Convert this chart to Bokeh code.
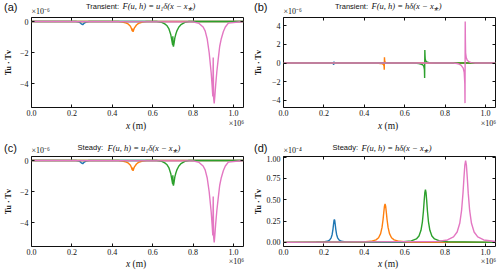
from bokeh.plotting import figure
from bokeh.models import Range1d, FixedTicker, LinearAxis, Label
from bokeh.layouts import column, row
from bokeh.embed import file_html
from bokeh.resources import INLINE

COLORS = ["#1f77b4", "#ff7f0e", "#2ca02c", "#e377c2"]

X_TICKS = [0.0, 0.2, 0.4, 0.6, 0.8, 1.0]
X_TICK_LABELS = ["0.0", "0.2", "0.4", "0.6", "0.8", "1.0"]
Y_TICKS_AC = [-4, -2, 0]
Y_TICK_LABELS_AC = ["\u22124", "\u22122", "0"]
Y_TICKS_B = [-4, -2, 0, 2, 4]
Y_TICK_LABELS_B = ["\u22124", "\u22122", "0", "2", "4"]
Y_TICKS_D = [0.0, 0.25, 0.5, 0.75, 1.0]
Y_TICK_LABELS_D = ["0.00", "0.25", "0.50", "0.75", "1.00"]

# x in units of 1e6 m ; y in units of 1e-6 (panels a-c) or 1e-4 (panel d)
A_BLUE_X = [0, 0.22, 0.235, 0.24, 0.245, 0.249, 0.25, 0.251, 0.254, 0.26, 0.27, 0.285, 1.05]
A_BLUE_Y = [0, 0, -0.04, -0.07, -0.12, -0.18, -0.13, -0.18, -0.2, -0.11, -0.04, 0, 0]
A_ORANGE_X = [0, 0.43, 0.45, 0.47, 0.48, 0.49, 0.495, 0.499, 0.500, 0.501, 0.503, 0.507, 0.51, 0.52, 0.53, 0.55, 0.57, 1.05]
A_ORANGE_Y = [0, 0, -0.03, -0.1, -0.17, -0.3, -0.45, -0.6, -0.45, -0.6, -0.65, -0.5, -0.4, -0.22, -0.12, -0.03, 0, 0]
A_GREEN_X = [0, 0.62, 0.645, 0.66, 0.67, 0.68, 0.69, 0.695, 0.699, 0.700, 0.701, 0.703, 0.706, 0.71, 0.715, 0.72, 0.73, 0.74, 0.76, 0.78, 1.05]
A_GREEN_Y = [0, 0, -0.05, -0.15, -0.25, -0.45, -0.85, -1.2, -1.5, -0.95, -1.5, -1.6, -1.4, -1.05, -0.8, -0.6, -0.35, -0.2, -0.05, 0, 0]
A_PINK_X = [0, 0.80, 0.83, 0.85, 0.86, 0.87, 0.88, 0.89, 0.895, 0.898, 0.900, 0.902, 0.905, 0.908, 0.912, 0.918, 0.924, 0.932, 0.94, 0.95, 0.96, 0.975, 1.05]
A_PINK_Y = [0, -0.02, -0.12, -0.35, -0.6, -1.1, -2.0, -3.3, -4.2, -4.8, -2.3, -4.9, -5.25, -4.8, -4.1, -3.2, -2.5, -1.6, -1.1, -0.65, -0.35, -0.1, 0]

B_BLUE_X = [0, 0.23, 0.24, 0.245, 0.249, 0.250, 0.251, 0.255, 0.26, 0.27, 1.05]
B_BLUE_Y = [0, 0, -0.01, -0.03, -0.18, 0.15, 0.05, 0.02, 0.01, 0, 0]
B_ORANGE_X = [0, 0.45, 0.47, 0.48, 0.49, 0.495, 0.498, 0.499, 0.500, 0.501, 0.502, 0.505, 0.51, 0.52, 0.55, 1.05]
B_ORANGE_Y = [0, 0, -0.02, -0.04, -0.08, -0.15, -0.3, -0.72, 0.62, 0.3, 0.15, 0.08, 0.04, 0.01, 0, 0]
B_GREEN_X = [0, 0.64, 0.66, 0.67, 0.68, 0.69, 0.695, 0.698, 0.699, 0.700, 0.701, 0.702, 0.705, 0.71, 0.72, 0.73, 0.75, 1.05]
B_GREEN_Y = [0, 0, -0.02, -0.05, -0.1, -0.2, -0.35, -0.7, -1.6, 1.4, 0.75, 0.4, 0.22, 0.12, 0.05, 0.02, 0, 0]
B_PINK_X = [0, 0.84, 0.86, 0.87, 0.88, 0.89, 0.895, 0.898, 0.899, 0.900, 0.901, 0.902, 0.905, 0.91, 0.92, 0.93, 0.95, 1.05]
B_PINK_Y = [0, 0, -0.05, -0.12, -0.25, -0.55, -1.0, -2.2, -4.3, 4.45, 2.3, 1.1, 0.6, 0.3, 0.12, 0.05, 0, 0]

# panel (c) is visually identical to panel (a)
C_BLUE_X, C_BLUE_Y = A_BLUE_X, A_BLUE_Y
C_ORANGE_X, C_ORANGE_Y = A_ORANGE_X, A_ORANGE_Y
C_GREEN_X, C_GREEN_Y = A_GREEN_X, A_GREEN_Y
C_PINK_X, C_PINK_Y = A_PINK_X, A_PINK_Y

D_BLUE_X = [0, 0.162, 0.197, 0.217, 0.228, 0.236, 0.241, 0.245, 0.248, 0.250, 0.252, 0.254, 0.256, 0.259, 0.263, 0.268, 0.276, 0.287, 0.307, 0.342, 1.05]
D_BLUE_Y = [0, 0.002, 0.006, 0.013, 0.027, 0.054, 0.093, 0.153, 0.216, 0.254, 0.27, 0.254, 0.216, 0.153, 0.093, 0.054, 0.027, 0.013, 0.006, 0.002, 0]
D_ORANGE_X = [0, 0.393, 0.433, 0.458, 0.471, 0.481, 0.488, 0.493, 0.497, 0.500, 0.503, 0.506, 0.509, 0.513, 0.518, 0.525, 0.535, 0.548, 0.573, 0.613, 1.05]
D_ORANGE_Y = [0, 0.005, 0.013, 0.030, 0.055, 0.103, 0.176, 0.266, 0.36, 0.424, 0.45, 0.424, 0.36, 0.266, 0.176, 0.103, 0.055, 0.030, 0.013, 0.005, 0]
D_GREEN_X = [0, 0.593, 0.633, 0.658, 0.671, 0.681, 0.688, 0.693, 0.697, 0.700, 0.703, 0.706, 0.709, 0.713, 0.718, 0.725, 0.735, 0.748, 0.773, 0.813, 1.05]
D_GREEN_Y = [0, 0.007, 0.018, 0.041, 0.076, 0.142, 0.242, 0.366, 0.496, 0.583, 0.62, 0.583, 0.496, 0.366, 0.242, 0.142, 0.076, 0.041, 0.018, 0.007, 0]
D_PINK_X = [0, 0.762, 0.812, 0.842, 0.860, 0.873, 0.882, 0.889, 0.894, 0.898, 0.902, 0.906, 0.910, 0.915, 0.922, 0.931, 0.944, 0.962, 0.992, 1.05]
D_PINK_Y = [0, 0.012, 0.029, 0.064, 0.122, 0.224, 0.375, 0.578, 0.768, 0.903, 0.96, 0.903, 0.768, 0.578, 0.375, 0.224, 0.122, 0.064, 0.029, 0.011]

X_RANGE = (0.0, 1.05)
Y_RANGE_AC = (-5.51, 0.26)
Y_RANGE_B = (-4.77, 4.89)
Y_RANGE_D = (-0.048, 1.008)

TITLE_A = ("(a)", "Transient:", "F(u, h) = u\u2081\u03b4(x \u2212 x\u204e)")
TITLE_B = ("(b)", "Transient:", "F(u, h) = h\u03b4(x \u2212 x\u204e)")
TITLE_C = ("(c)", "Steady:", "F(u, h) = u\u2081\u03b4(x \u2212 x\u204e)")
TITLE_D = ("(d)", "Steady:", "F(u, h) = h\u03b4(x \u2212 x\u204e)")
Y_MULT = ["\u00d710\u207b\u2076", "\u00d710\u207b\u2076", "\u00d710\u207b\u2076", "\u00d710\u207b\u2074"]
X_MULT = "\u00d710\u2076"
X_LABEL = ("x", "(m)")
Y_LABEL = "Tu \u00b7 Tv"

INK = "#111111"
SERIF = "Liberation Serif"
SANS = "Liberation Sans"
W = 500


def strip(h):
    s = figure(width=W, height=h, title=None, x_range=Range1d(0, W), y_range=Range1d(h, 0),
               output_backend="svg", toolbar_location=None, min_border=0,
               x_axis_location=None, y_axis_location=None)
    s.grid.visible = False
    s.outline_line_color = None
    s.background_fill_color = "white"
    s.border_fill_color = "white"
    return s


def lab(s, x, y, text, font=SERIF, size="8px", align="left", style="normal"):
    s.add_layout(Label(x=x, y=y, text=text, text_font=font, text_font_size=size,
                       text_align=align, text_baseline="middle",
                       text_font_style=style, text_color=INK))


def title_row(s, y, mult_y, col, t, kind_right, formula_left, mult):
    x0 = 0 if col == 0 else 250
    fl = 30 if col == 0 else 282
    lab(s, x0 + 3.5, y + 0.5, t[0], font=SANS, size="11px")
    lab(s, kind_right, y, t[1], font=SANS, size="7.5px", align="right")
    lab(s, formula_left, y, t[2], font=SERIF, size="8.5px", style="italic")
    lab(s, fl + 1, mult_y, mult, font=SERIF, size="8px")


def xlabel_row(s, y, col):
    fl, fr = (30, 243) if col == 0 else (282, 495)
    cx = (fl + fr) / 2
    lab(s, cx - 11, y, X_LABEL[0], font=SERIF, size="9.5px", style="italic")
    lab(s, cx - 4.5, y, X_LABEL[1], font=SERIF, size="9.5px")
    lab(s, fr + 0.5, y - 2.5, X_MULT, font=SERIF, size="8px", align="right")


def panel(series, yrange, yticks, yticklabels, col, ylab_standoff):
    bl, br = (30, 7) if col == 0 else (32, 5)
    p = figure(width=250, height=102, title=None,
               x_range=Range1d(*X_RANGE), y_range=Range1d(*yrange),
               output_backend="svg", toolbar_location=None,
               min_border_left=bl, min_border_right=br,
               min_border_top=1, min_border_bottom=11)
    p.grid.visible = False
    p.background_fill_color = "white"
    p.border_fill_color = "white"
    p.outline_line_color = INK
    p.outline_line_width = 1

    for (xs, ys), c in zip(series, COLORS):
        p.line(xs, ys, line_color=c, line_width=1.4)

    def style_axis(ax, ticks, labels, show, standoff=2):
        ax.ticker = FixedTicker(ticks=ticks)
        if show:
            ax.major_label_overrides = {t: l for t, l in zip(ticks, labels)}
            ax.major_label_text_font = SERIF
            ax.major_label_text_font_size = "8px"
            ax.major_label_text_color = INK
            ax.major_label_standoff = standoff
        else:
            ax.major_label_overrides = {t: "" for t in ticks}
            ax.major_label_text_font_size = "0px"
            ax.major_label_standoff = 0
        ax.axis_line_color = None
        ax.major_tick_in = 3
        ax.major_tick_out = 0
        ax.major_tick_line_color = INK
        ax.minor_tick_line_color = None

    style_axis(p.xaxis[0], X_TICKS, X_TICK_LABELS, True, 2)
    style_axis(p.yaxis[0], yticks, yticklabels, True, 3)
    yax = p.yaxis[0]
    yax.axis_label = Y_LABEL
    yax.axis_label_text_font = SERIF
    yax.axis_label_text_font_size = "8px"
    yax.axis_label_text_font_style = "bold"
    yax.axis_label_text_color = INK
    yax.axis_label_standoff = ylab_standoff
    top = LinearAxis()
    style_axis(top, X_TICKS, X_TICK_LABELS, False)
    p.add_layout(top, "above")
    right = LinearAxis()
    style_axis(right, yticks, yticklabels, False)
    p.add_layout(right, "right")
    return p


pa = panel([(A_BLUE_X, A_BLUE_Y), (A_ORANGE_X, A_ORANGE_Y), (A_GREEN_X, A_GREEN_Y), (A_PINK_X, A_PINK_Y)],
           Y_RANGE_AC, Y_TICKS_AC, Y_TICK_LABELS_AC, 0, 4)
pb = panel([(B_BLUE_X, B_BLUE_Y), (B_ORANGE_X, B_ORANGE_Y), (B_GREEN_X, B_GREEN_Y), (B_PINK_X, B_PINK_Y)],
           Y_RANGE_B, Y_TICKS_B, Y_TICK_LABELS_B, 1, 6)
pc = panel([(C_BLUE_X, C_BLUE_Y), (C_ORANGE_X, C_ORANGE_Y), (C_GREEN_X, C_GREEN_Y), (C_PINK_X, C_PINK_Y)],
           Y_RANGE_AC, Y_TICKS_AC, Y_TICK_LABELS_AC, 0, 4)
pd_ = panel([(D_BLUE_X, D_BLUE_Y), (D_ORANGE_X, D_ORANGE_Y), (D_GREEN_X, D_GREEN_Y), (D_PINK_X, D_PINK_Y)],
            Y_RANGE_D, Y_TICKS_D, Y_TICK_LABELS_D, 1, 1)

# strips that hold the texts outside the plot frames (pixel coordinates, y down)
s1 = strip(16)
title_row(s1, 5.5, 11, 0, TITLE_A, 118.5, 122, Y_MULT[0])
title_row(s1, 5.5, 11, 1, TITLE_B, 367.5, 371, Y_MULT[1])

s2 = strip(37)
xlabel_row(s2, 7, 0)
xlabel_row(s2, 7, 1)
title_row(s2, 29.2, 31.5, 0, TITLE_C, 102.5, 107, Y_MULT[2])
title_row(s2, 29.2, 31.5, 1, TITLE_D, 357.5, 361, Y_MULT[3])

s3 = strip(16)
xlabel_row(s3, 6, 0)
xlabel_row(s3, 6, 1)

layout = column(s1, row(pa, pb), s2, row(pc, pd_), s3)
open("out.html", "w").write(file_html(layout, INLINE))
